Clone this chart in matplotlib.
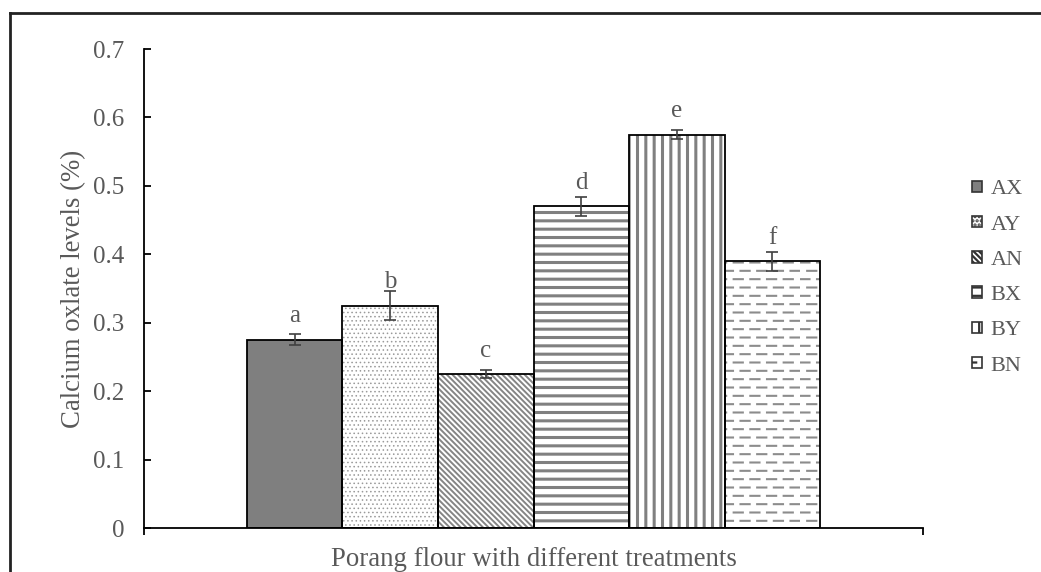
import numpy as np
import matplotlib
matplotlib.use("Agg")
import matplotlib.pyplot as plt
from matplotlib import hatch as mhatch
from matplotlib.lines import Line2D
from matplotlib.patches import Patch

# Data
treatments = ["AX", "AY", "AN", "BX", "BY", "BN"]
oxalate = [0.275, 0.325, 0.225, 0.470, 0.575, 0.390]
errors = [0.008, 0.021, 0.006, 0.014, 0.007, 0.014]
letters = ["a", "b", "c", "d", "e", "f"]

# Styles
fills = ["#7f7f7f", "white", "white", "white", "white", "white"]
hatches = [None, "....", "\\\\\\\\\\\\", "--", "||", "**"]
hatch_colors = ["#7f7f7f", "#9a9a9a", "#858585", "#808080", "#808080", "#8c8c8c"]
hatch_widths = [1.0, 0.6, 1.4, 2.2, 2.2, 1.5]
TEXT = "#595959"


class DashedRows(mhatch.HatchPatternBase):
    """Staggered rows of short dashes, bound to the '*' hatch character."""

    def __init__(self, hatch, density):
        self.num_rows = int(hatch.count("*") * density)
        self.num_dashes = self.num_rows // 2
        self.num_vertices = self.num_rows * self.num_dashes * 2

    def set_vertices_and_codes(self, vertices, codes):
        p = 1.0 / self.num_dashes
        n = 0
        for i in range(self.num_rows):
            y = (i + 0.5) / self.num_rows
            shift = 0.02 if i % 2 == 0 else 0.43
            for k in range(self.num_dashes):
                x0 = (k + shift) * p
                vertices[n] = (x0, y)
                vertices[n + 1] = (x0 + 0.55 * p, y)
                codes[n] = mhatch.Path.MOVETO
                codes[n + 1] = mhatch.Path.LINETO
                n += 2


mhatch._hatch_types = [DashedRows if t is mhatch.Stars else t for t in mhatch._hatch_types]

plt.rcParams["font.family"] = ["Liberation Serif", "DejaVu Serif"]
plt.rcParams["hatch.linewidth"] = 1.6

fig = plt.figure(figsize=(10.41, 5.72), dpi=100)
ax = fig.add_axes([0.1383, 0.0769, 0.7484, 0.8374])

x = np.arange(len(treatments))
for i in range(len(treatments)):
    with plt.rc_context({"hatch.linewidth": hatch_widths[i]}):
        bars = ax.bar(x[i], oxalate[i], width=1.0, color=fills[i], hatch=hatches[i],
                      edgecolor=hatch_colors[i], linewidth=0, zorder=2)
    for b in bars:
        if hasattr(b, "set_hatch_linewidth"):
            b.set_hatch_linewidth(hatch_widths[i])
ax.bar(x, oxalate, width=1.0, fill=False, edgecolor="black", linewidth=1.3, zorder=3)
ax.errorbar(x, oxalate, yerr=errors, fmt="none", ecolor="#404040",
            elinewidth=1.2, capsize=4.5, capthick=1.2, zorder=4)

for xi, v, lab in zip(x, oxalate, letters):
    ax.annotate(lab, (xi, v), xytext=(0, 9), textcoords="offset points",
                ha="center", va="bottom", fontsize=18, color=TEXT)

ax.set_xlim(-1.577, 6.577)
ax.set_ylim(0, 0.7)
ax.set_yticks(np.arange(0, 0.71, 0.1))
ax.set_yticklabels(["0", "0.1", "0.2", "0.3", "0.4", "0.5", "0.6", "0.7"])
ax.set_xticks([-1.577, 6.577])
ax.set_xticklabels(["", ""])
ax.tick_params(axis="y", direction="in", length=5, width=1.3, pad=14,
               labelsize=18, labelcolor=TEXT)
ax.tick_params(axis="x", direction="out", length=5, width=1.3)
for s in ["top", "right"]:
    ax.spines[s].set_visible(False)
for s in ["left", "bottom"]:
    ax.spines[s].set_linewidth(1.3)

ax.set_ylabel("Calcium oxlate levels (%)", fontsize=19.3, color=TEXT, labelpad=5)
ax.set_xlabel("Porang flour with different treatments", fontsize=19.3, color=TEXT, labelpad=5)

handles = [Patch(facecolor=fills[i], hatch=hatches[i], edgecolor="#333333", linewidth=1.2)
           for i in range(len(treatments))]
ax.legend(handles, treatments, loc="center left", bbox_to_anchor=(0.934, 0.514),
          bbox_transform=fig.transFigure, frameon=False, fontsize=16,
          handlelength=0.42, handleheight=0.42, handletextpad=0.4,
          labelspacing=0.73, borderpad=0, borderaxespad=0, labelcolor=TEXT)

# frame of the original figure (left and top edges visible)
fig.add_artist(Line2D([0.0096, 0.0096], [0, 0.9765], transform=fig.transFigure,
                      color="#222222", linewidth=2))
fig.add_artist(Line2D([0.0096, 1.0], [0.9765, 0.9765], transform=fig.transFigure,
                      color="#222222", linewidth=2))

fig.savefig("out.png", dpi=100)
